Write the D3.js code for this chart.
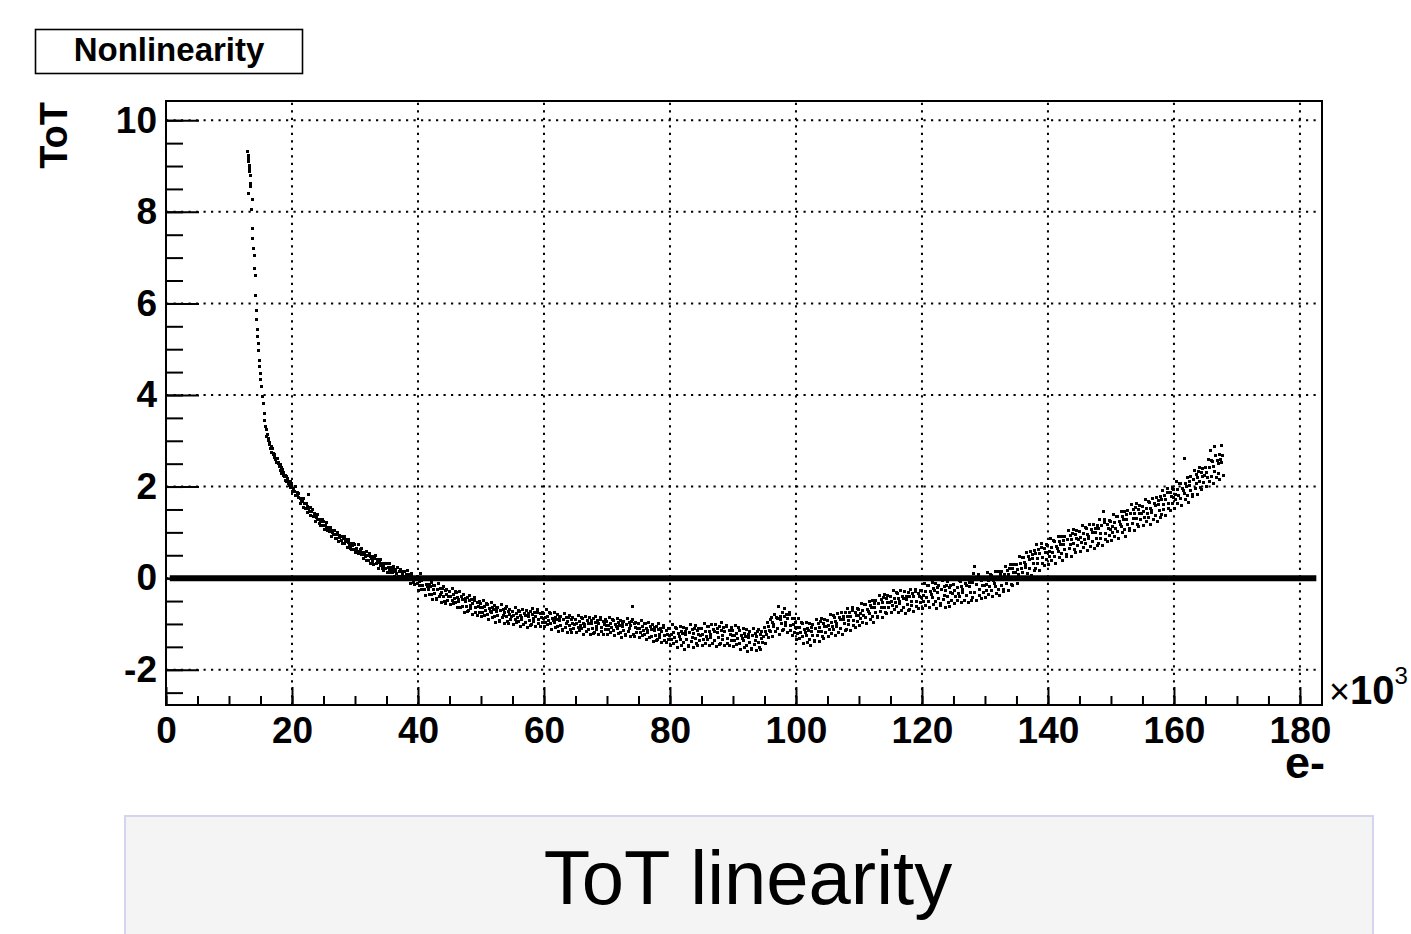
<!DOCTYPE html>
<html>
<head>
<meta charset="utf-8">
<script src="https://cdn.jsdelivr.net/npm/d3@7"></script>
<style>
  body { margin: 0; background: #fff; }
  svg { display: block; }
  text { font-family: "Liberation Sans", Arial, Helvetica, sans-serif; }
</style>
</head>
<body>
<script>
// axis ticks
const xTicks = [0, 20, 40, 60, 80, 100, 120, 140, 160, 180];
const xMinor = d3.range(0, 181, 5);
const yTicks = [-2, 0, 2, 4, 6, 8, 10];
const yMinor = d3.range(-2.5, 10.01, 0.5);

// nonlinearity points: [charge (x10^3 e-), ToT deviation]
const points = [
  [12.96,9.31],[13.07,9.24],[13.17,9.16],[13.07,9.09],[13.23,9.02],[13.33,8.95],[13.23,8.87],[13.39,8.80],[13.39,8.62],[13.49,8.55],
  [13.07,8.40],[13.70,8.27],[13.60,8.04],[13.70,7.64],[13.81,7.42],[13.92,7.20],[14.02,7.05],[14.02,6.76],[14.13,6.62],[14.23,6.18],
  [14.39,5.85],[14.39,5.64],[14.50,5.42],[14.55,5.27],[14.66,5.13],[14.66,4.98],[14.81,4.76],[14.87,4.62],[14.97,4.47],[15.08,4.33],
  [15.19,4.18],[15.34,3.96],[15.45,3.82],[15.61,3.60],[15.71,3.45],[15.82,3.31],
  [15.9,3.24],[16.0,3.10],[16.1,3.14],[16.2,3.00],[16.3,3.06],[16.4,2.92],[16.5,2.97],[16.6,2.84],[16.7,2.88],[16.8,2.75],
  [16.9,2.83],[17.0,2.71],[17.1,2.73],[17.2,2.64],[17.3,2.71],[17.4,2.60],[17.5,2.62],[17.6,2.53],[17.7,2.61],[17.8,2.50],
  [17.9,2.52],[18.0,2.43],[18.1,2.48],[18.2,2.36],[18.3,2.41],[18.4,2.29],[18.5,2.37],[18.6,2.25],[18.7,2.31],[18.8,2.21],
  [18.9,2.24],[19.0,2.14],[19.1,2.22],[19.2,2.11],[19.3,2.17],[19.4,2.06],[19.5,2.12],[19.6,2.03],[19.7,2.10],[19.8,1.98],[19.9,2.05],
  [20.0,2.06],[20.1,1.89],[20.3,1.95],[20.4,1.89],[20.5,2.00],[20.6,1.81],[20.8,1.87],[20.9,1.81],
  [21.0,1.76],[21.1,1.85],[21.3,1.64],[21.4,1.74],[21.5,1.70],[21.6,1.67],[21.8,1.74],[21.9,1.55],
  [22.0,1.63],[22.1,1.53],[22.3,1.64],[22.4,1.44],[22.5,1.57],[22.6,1.52],[22.8,1.45],[22.9,1.54],
  [23.0,1.37],[23.1,1.46],[23.3,1.50],[23.4,1.35],[23.5,1.36],[23.6,1.42],[23.8,1.23],[23.9,1.33],
  [24.0,1.39],[24.1,1.27],[24.3,1.19],[24.4,1.29],[24.5,1.14],[24.6,1.23],[24.8,1.27],[24.9,1.14],
  [25.0,1.23],[25.1,1.07],[25.3,1.14],[25.4,1.09],[25.5,1.21],[25.6,1.03],[25.8,1.10],[25.9,1.05],
  [26.0,1.01],[26.1,1.11],[26.3,0.92],[26.4,1.03],[26.5,0.99],[26.6,0.96],[26.8,1.05],[26.9,0.87],
  [27.0,0.96],[27.1,0.87],[27.3,0.99],[27.4,0.79],[27.5,0.93],[27.6,0.89],[27.8,0.83],[27.9,0.92],
  [28.0,0.76],[28.1,0.86],[28.3,0.91],[28.4,0.76],[28.5,0.79],[28.6,0.85],[28.8,0.67],[28.9,0.78],
  [29.0,0.84],[29.1,0.72],[29.3,0.65],[29.4,0.75],[29.5,0.62],[29.6,0.71],[29.8,0.75],[29.9,0.63],
  [30.0,0.73],[30.1,0.55],[30.3,0.64],[30.4,0.58],[30.5,0.74],[30.6,0.53],[30.8,0.63],[30.9,0.57],
  [31.0,0.52],[31.1,0.64],[31.3,0.42],[31.4,0.56],[31.5,0.52],[31.6,0.48],[31.8,0.59],[31.9,0.39],
  [32.0,0.50],[32.1,0.39],[32.3,0.54],[32.4,0.31],[32.5,0.48],[32.6,0.43],[32.8,0.37],[32.9,0.48],
  [33.0,0.30],[33.1,0.42],[33.3,0.49],[33.4,0.31],[33.5,0.34],[33.6,0.41],[33.8,0.21],[33.9,0.35],
  [34.0,0.41],[34.1,0.27],[34.3,0.21],[34.4,0.33],[34.5,0.17],[34.6,0.28],[34.8,0.33],[34.9,0.20],
  [35.0,0.31],[35.1,0.13],[35.3,0.23],[35.4,0.18],[35.5,0.33],[35.6,0.12],[35.8,0.23],[35.9,0.18],
  [36.0,0.13],[36.1,0.25],[36.3,0.04],[36.4,0.19],[36.5,0.15],[36.6,0.11],[36.8,0.23],[36.9,0.04],
  [37.0,0.15],[37.1,0.04],[37.3,0.19],[37.4,-0.03],[37.5,0.14],[37.6,0.09],[37.8,0.03],[37.9,0.15],
  [38.0,-0.03],[38.1,0.09],[38.3,0.16],[38.4,-0.01],[38.5,0.02],[38.6,0.09],[38.8,-0.11],[38.9,0.04],
  [39.0,0.10],[39.1,-0.04],[39.3,-0.10],[39.4,0.02],[39.5,-0.14],[39.6,-0.03],[39.8,0.02],[39.9,-0.11],
  [40.0,0.04],[40.1,-0.26],[40.2,-0.07],[40.3,-0.16],[40.4,0.10],[40.5,-0.24],[40.6,-0.05],[40.7,-0.15],[40.9,0.01],
  [41.0,-0.24],[41.1,-0.03],[41.2,-0.37],[41.4,-0.14],[41.5,-0.19],[41.6,-0.24],[41.7,-0.03],[41.8,-0.36],[41.9,-0.13],
  [42.0,-0.19],[42.1,-0.35],[42.2,-0.09],[42.3,-0.47],[42.4,-0.17],[42.5,-0.25],[42.6,-0.34],[42.7,-0.15],[42.9,-0.47],
  [43.0,-0.45],[43.1,-0.24],[43.2,-0.11],[43.4,-0.41],[43.5,-0.35],[43.6,-0.23],[43.7,-0.54],[43.8,-0.31],[43.9,-0.22],
  [44.0,-0.18],[44.1,-0.40],[44.2,-0.50],[44.3,-0.28],[44.4,-0.56],[44.5,-0.36],[44.6,-0.25],[44.7,-0.48],[44.9,-0.40],
  [45.0,-0.29],[45.1,-0.58],[45.2,-0.39],[45.4,-0.49],[45.5,-0.22],[45.6,-0.55],[45.7,-0.36],[45.8,-0.45],[45.9,-0.29],
  [46.0,-0.53],[46.1,-0.32],[46.2,-0.65],[46.3,-0.42],[46.4,-0.46],[46.5,-0.51],[46.6,-0.30],[46.7,-0.63],[46.9,-0.40],
  [47.0,-0.46],[47.1,-0.62],[47.2,-0.36],[47.4,-0.74],[47.5,-0.44],[47.6,-0.52],[47.7,-0.61],[47.8,-0.42],[47.9,-0.73],
  [48.0,-0.71],[48.1,-0.49],[48.2,-0.37],[48.3,-0.67],[48.4,-0.60],[48.5,-0.47],[48.6,-0.79],[48.7,-0.56],[48.9,-0.48],
  [49.0,-0.43],[49.1,-0.65],[49.2,-0.75],[49.4,-0.54],[49.5,-0.81],[49.6,-0.62],[49.7,-0.51],[49.8,-0.74],[49.9,-0.65],
  [50.0,-0.55],[50.1,-0.84],[50.2,-0.65],[50.3,-0.74],[50.4,-0.48],[50.5,-0.81],[50.6,-0.61],[50.7,-0.71],[50.9,-0.55],
  [51.0,-0.79],[51.1,-0.57],[51.2,-0.91],[51.4,-0.67],[51.5,-0.72],[51.6,-0.76],[51.7,-0.54],[51.8,-0.87],[51.9,-0.64],
  [52.0,-0.69],[52.1,-0.84],[52.2,-0.59],[52.3,-0.96],[52.4,-0.66],[52.5,-0.73],[52.6,-0.82],[52.7,-0.63],[52.9,-0.95],
  [53.0,-0.92],[53.1,-0.70],[53.2,-0.58],[53.4,-0.87],[53.5,-0.81],[53.6,-0.68],[53.7,-0.99],[53.8,-0.75],[53.9,-0.67],
  [54.0,-0.62],[54.1,-0.84],[54.2,-0.94],[54.3,-0.72],[54.4,-0.99],[54.5,-0.80],[54.6,-0.69],[54.7,-0.91],[54.9,-0.83],
  [55.0,-0.72],[55.1,-1.01],[55.2,-0.81],[55.4,-0.91],[55.5,-0.64],[55.6,-0.97],[55.7,-0.78],[55.8,-0.87],[55.9,-0.70],
  [56.0,-0.94],[56.1,-0.72],[56.2,-1.05],[56.3,-0.81],[56.4,-0.85],[56.5,-0.90],[56.6,-0.68],[56.7,-1.01],[56.9,-0.77],
  [57.0,-0.82],[57.1,-0.97],[57.2,-0.71],[57.4,-1.08],[57.5,-0.77],[57.6,-0.84],[57.7,-0.93],[57.8,-0.73],[57.9,-1.04],
  [58.0,-1.01],[58.1,-0.79],[58.2,-0.66],[58.3,-0.95],[58.4,-0.88],[58.5,-0.75],[58.6,-1.06],[58.7,-0.83],[58.9,-0.74],
  [59.0,-0.69],[59.1,-0.91],[59.2,-1.00],[59.4,-0.78],[59.5,-1.05],[59.6,-0.85],[59.7,-0.74],[59.8,-0.97],[59.9,-0.88],
  [60.0,-0.77],[60.1,-1.06],[60.2,-0.87],[60.3,-0.96],[60.4,-0.69],[60.5,-1.02],[60.6,-0.83],[60.7,-0.92],[60.9,-0.76],
  [61.0,-1.00],[61.1,-0.78],[61.2,-1.12],[61.4,-0.88],[61.5,-0.93],[61.6,-0.97],[61.7,-0.75],[61.8,-1.08],[61.9,-0.85],
  [62.0,-0.90],[62.1,-1.05],[62.2,-0.80],[62.3,-1.17],[62.4,-0.86],[62.5,-0.93],[62.6,-1.03],[62.7,-0.83],[62.9,-1.15],
  [63.0,-1.12],[63.1,-0.90],[63.2,-0.77],[63.4,-1.07],[63.5,-1.00],[63.6,-0.87],[63.7,-1.18],[63.8,-0.94],[63.9,-0.86],
  [64.0,-0.81],[64.1,-1.03],[64.2,-1.12],[64.3,-0.91],[64.4,-1.18],[64.5,-0.98],[64.6,-0.87],[64.7,-1.09],[64.9,-1.01],
  [65.0,-0.90],[65.1,-1.19],[65.2,-0.99],[65.4,-1.08],[65.5,-0.81],[65.6,-1.14],[65.7,-0.95],[65.8,-1.04],[65.9,-0.87],
  [66.0,-1.11],[66.1,-0.89],[66.2,-1.22],[66.3,-0.98],[66.4,-1.02],[66.5,-1.06],[66.6,-0.84],[66.7,-1.17],[66.9,-0.93],
  [67.0,-0.98],[67.1,-1.13],[67.2,-0.87],[67.4,-1.24],[67.5,-0.93],[67.6,-1.00],[67.7,-1.09],[67.8,-0.89],[67.9,-1.20],
  [68.0,-1.18],[68.1,-0.96],[68.2,-0.83],[68.3,-1.12],[68.4,-1.05],[68.5,-0.92],[68.6,-1.23],[68.7,-0.99],[68.9,-0.90],
  [69.0,-0.86],[69.1,-1.08],[69.2,-1.17],[69.4,-0.95],[69.5,-1.22],[69.6,-1.02],[69.7,-0.91],[69.8,-1.13],[69.9,-1.04],
  [70.0,-0.94],[70.1,-1.23],[70.2,-1.03],[70.3,-1.12],[70.4,-0.85],[70.5,-1.18],[70.6,-0.98],[70.7,-1.07],[70.9,-0.90],
  [71.0,-1.15],[71.1,-0.93],[71.2,-1.26],[71.4,-1.02],[71.5,-1.06],[71.6,-1.10],[71.7,-0.88],[71.8,-1.21],[71.9,-0.97],
  [72.0,-1.03],[72.1,-1.18],[72.2,-0.92],[72.3,-1.29],[72.4,-0.98],[72.5,-1.05],[72.6,-1.14],[72.7,-0.94],[72.9,-1.25],
  [73.0,-1.23],[73.1,-1.01],[73.2,-0.88],[73.4,-1.17],[73.5,-1.10],[73.6,-0.97],[73.7,-1.28],[73.8,-1.04],[73.9,-0.95],
  [74.0,-0.91],[74.1,-0.62],[74.2,-1.22],[74.3,-1.00],[74.4,-1.27],[74.5,-1.08],[74.6,-0.97],[74.7,-1.19],[74.9,-1.11],
  [75.0,-1.00],[75.1,-1.29],[75.2,-1.09],[75.4,-1.19],[75.5,-0.92],[75.6,-1.25],[75.7,-1.06],[75.8,-1.15],[75.9,-0.98],
  [76.0,-1.22],[76.1,-1.00],[76.2,-1.33],[76.3,-1.10],[76.4,-1.14],[76.5,-1.19],[76.6,-0.97],[76.7,-1.30],[76.9,-1.06],
  [77.0,-1.12],[77.1,-1.27],[77.2,-1.02],[77.4,-1.39],[77.5,-1.08],[77.6,-1.15],[77.7,-1.25],[77.8,-1.05],[77.9,-1.36],
  [78.0,-1.34],[78.1,-1.12],[78.2,-0.99],[78.3,-1.29],[78.4,-1.22],[78.5,-1.10],[78.6,-1.41],[78.7,-1.17],[78.9,-1.08],
  [79.0,-1.04],[79.1,-1.26],[79.2,-1.36],[79.4,-1.14],[79.5,-1.41],[79.6,-1.22],[79.7,-1.11],[79.8,-1.33],[79.9,-1.25],
  [80.0,-1.11],[80.1,-1.47],[80.2,-1.23],[80.3,-1.34],[80.4,-1.01],[80.5,-1.43],[80.6,-1.18],[80.7,-1.29],[80.9,-1.07],
  [81.0,-1.38],[81.1,-1.10],[81.2,-1.52],[81.4,-1.21],[81.5,-1.27],[81.6,-1.33],[81.7,-1.05],[81.8,-1.47],[81.9,-1.16],
  [82.0,-1.21],[82.1,-1.41],[82.2,-1.07],[82.3,-1.55],[82.4,-1.16],[82.5,-1.24],[82.6,-1.35],[82.7,-1.10],[82.9,-1.49],
  [83.0,-1.47],[83.1,-1.19],[83.2,-1.02],[83.4,-1.38],[83.5,-1.30],[83.6,-1.13],[83.7,-1.52],[83.8,-1.21],[83.9,-1.10],
  [84.0,-1.04],[84.1,-1.32],[84.2,-1.43],[84.3,-1.15],[84.4,-1.48],[84.5,-1.23],[84.6,-1.09],[84.7,-1.37],[84.9,-1.26],
  [85.0,-1.11],[85.1,-1.47],[85.2,-1.22],[85.4,-1.33],[85.5,-1.00],[85.6,-1.42],[85.7,-1.17],[85.8,-1.28],[85.9,-1.05],
  [86.0,-1.34],[86.1,-1.06],[86.2,-1.48],[86.3,-1.17],[86.4,-1.23],[86.5,-1.29],[86.6,-1.01],[86.7,-1.43],[86.9,-1.12],
  [87.0,-1.16],[87.1,-1.36],[87.2,-1.02],[87.4,-1.50],[87.5,-1.11],[87.6,-1.19],[87.7,-1.30],[87.8,-1.05],[87.9,-1.44],
  [88.0,-1.42],[88.1,-1.14],[88.2,-0.97],[88.3,-1.33],[88.4,-1.25],[88.5,-1.08],[88.6,-1.47],[88.7,-1.16],[88.9,-1.05],
  [89.0,-1.03],[89.1,-1.31],[89.2,-1.42],[89.4,-1.14],[89.5,-1.47],[89.6,-1.22],[89.7,-1.08],[89.8,-1.36],[89.9,-1.25],
  [90.0,-1.14],[90.1,-1.50],[90.2,-1.25],[90.3,-1.36],[90.4,-1.03],[90.5,-1.45],[90.6,-1.20],[90.7,-1.31],[90.9,-1.08],
  [91.0,-1.42],[91.1,-1.14],[91.2,-1.56],[91.4,-1.25],[91.5,-1.31],[91.6,-1.37],[91.7,-1.09],[91.8,-1.51],[91.9,-1.20],
  [92.0,-1.27],[92.1,-1.47],[92.2,-1.13],[92.3,-1.61],[92.4,-1.22],[92.5,-1.30],[92.6,-1.41],[92.7,-1.16],[92.9,-1.55],
  [93.0,-1.54],[93.1,-1.26],[93.2,-1.09],[93.4,-1.45],[93.5,-1.37],[93.6,-1.20],[93.7,-1.59],[93.8,-1.28],[93.9,-1.17],
  [94.0,-1.13],[94.1,-1.41],[94.2,-1.52],[94.3,-1.24],[94.4,-1.56],[94.5,-1.31],[94.6,-1.16],[94.7,-1.41],[94.9,-1.27],
  [95.0,-1.08],[95.1,-1.42],[95.2,-1.16],[95.4,-1.23],[95.5,-0.97],[95.6,-1.29],[95.7,-1.06],[95.8,-1.14],[95.9,-0.90],
  [96.0,-1.16],[96.1,-0.87],[96.2,-1.28],[96.3,-0.96],[96.4,-1.01],[96.5,-1.06],[96.6,-0.79],[96.7,-1.17],[96.9,-0.85],
  [97.0,-0.89],[97.1,-1.09],[97.2,-0.62],[97.4,-1.22],[97.5,-0.83],[97.6,-0.90],[97.7,-1.00],[97.8,-0.76],[97.9,-1.14],
  [98.0,-1.12],[98.1,-0.84],[98.2,-0.67],[98.3,-1.04],[98.4,-0.96],[98.5,-0.79],[98.6,-1.19],[98.7,-0.89],[98.9,-0.79],
  [99.0,-0.75],[99.1,-1.04],[99.2,-1.15],[99.4,-0.89],[99.5,-1.25],[99.6,-1.01],[99.7,-0.88],[99.8,-1.19],[99.9,-1.08],
  [100.0,-0.96],[100.1,-1.33],[100.2,-1.08],[100.3,-1.20],[100.4,-0.89],[100.5,-1.31],[100.6,-1.07],[100.7,-1.19],[100.9,-0.97],
  [101.0,-1.28],[101.1,-1.00],[101.2,-1.43],[101.4,-1.12],[101.5,-1.19],[101.6,-1.25],[101.7,-0.97],[101.8,-1.40],[101.9,-1.09],
  [102.0,-1.14],[102.1,-1.34],[102.2,-1.00],[102.3,-1.48],[102.4,-1.08],[102.5,-1.16],[102.6,-1.26],[102.7,-1.01],[102.9,-1.39],
  [103.0,-1.37],[103.1,-1.09],[103.2,-0.91],[103.4,-1.26],[103.5,-1.17],[103.6,-1.00],[103.7,-1.38],[103.8,-1.07],[103.9,-0.95],
  [104.0,-0.89],[104.1,-1.16],[104.2,-1.27],[104.3,-0.98],[104.4,-1.31],[104.5,-1.06],[104.6,-0.91],[104.7,-1.18],[104.9,-1.06],
  [105.0,-0.92],[105.1,-1.28],[105.2,-1.03],[105.4,-1.12],[105.5,-0.79],[105.6,-1.21],[105.7,-0.96],[105.8,-1.06],[105.9,-0.82],
  [106.0,-1.13],[106.1,-0.85],[106.2,-1.26],[106.3,-0.95],[106.4,-1.00],[106.5,-1.05],[106.6,-0.77],[106.7,-1.18],[106.9,-0.86],
  [107.0,-0.91],[107.1,-1.11],[107.2,-0.76],[107.4,-1.23],[107.5,-0.84],[107.6,-0.91],[107.7,-1.00],[107.8,-0.76],[107.9,-1.14],
  [108.0,-1.12],[108.1,-0.84],[108.2,-0.66],[108.3,-1.02],[108.4,-0.93],[108.5,-0.76],[108.6,-1.15],[108.7,-0.84],[108.9,-0.71],
  [109.0,-0.65],[109.1,-0.93],[109.2,-1.04],[109.4,-0.74],[109.5,-1.07],[109.6,-0.81],[109.7,-0.67],[109.8,-0.94],[109.9,-0.82],
  [110.0,-0.68],[110.1,-1.03],[110.2,-0.78],[110.3,-0.88],[110.4,-0.55],[110.5,-0.96],[110.6,-0.71],[110.7,-0.81],[110.9,-0.57],
  [111.0,-0.87],[111.1,-0.58],[111.2,-0.99],[111.4,-0.68],[111.5,-0.73],[111.6,-0.78],[111.7,-0.50],[111.8,-0.91],[111.9,-0.60],
  [112.0,-0.64],[112.1,-0.83],[112.2,-0.49],[112.3,-0.96],[112.4,-0.56],[112.5,-0.64],[112.6,-0.74],[112.7,-0.49],[112.9,-0.86],
  [113.0,-0.84],[113.1,-0.55],[113.2,-0.38],[113.4,-0.73],[113.5,-0.64],[113.6,-0.47],[113.7,-0.86],[113.8,-0.53],[113.9,-0.42],
  [114.0,-0.36],[114.1,-0.64],[114.2,-0.74],[114.3,-0.45],[114.4,-0.78],[114.5,-0.53],[114.6,-0.38],[114.7,-0.65],[114.9,-0.53],
  [115.0,-0.39],[115.1,-0.75],[115.2,-0.50],[115.4,-0.60],[115.5,-0.27],[115.6,-0.69],[115.7,-0.44],[115.8,-0.54],[115.9,-0.31],
  [116.0,-0.62],[116.1,-0.34],[116.2,-0.76],[116.3,-0.45],[116.4,-0.51],[116.5,-0.56],[116.6,-0.28],[116.7,-0.70],[116.9,-0.39],
  [117.0,-0.44],[117.1,-0.64],[117.2,-0.30],[117.4,-0.78],[117.5,-0.39],[117.6,-0.46],[117.7,-0.57],[117.8,-0.32],[117.9,-0.71],
  [118.0,-0.69],[118.1,-0.41],[118.2,-0.24],[118.3,-0.59],[118.4,-0.51],[118.5,-0.34],[118.6,-0.72],[118.7,-0.41],[118.9,-0.30],
  [119.0,-0.24],[119.1,-0.51],[119.2,-0.62],[119.4,-0.34],[119.5,-0.66],[119.6,-0.41],[119.7,-0.27],[119.8,-0.54],[119.9,-0.42],
  [120.0,-0.26],[120.1,-0.67],[120.2,-0.38],[120.3,-0.50],[120.4,-0.11],[120.5,-0.59],[120.6,-0.30],[120.7,-0.43],[120.9,-0.16],
  [121.0,-0.50],[121.1,-0.17],[121.2,-0.65],[121.4,-0.30],[121.5,-0.36],[121.6,-0.42],[121.7,-0.10],[121.8,-0.57],[121.9,-0.22],
  [122.0,-0.28],[122.1,-0.50],[122.2,-0.12],[122.3,-0.66],[122.4,-0.21],[122.5,-0.31],[122.6,-0.44],[122.7,-0.15],[122.9,-0.60],
  [123.0,-0.56],[123.1,-0.24],[123.2,-0.05],[123.4,-0.47],[123.5,-0.37],[123.6,-0.18],[123.7,-0.63],[123.8,-0.28],[123.9,-0.16],
  [124.0,-0.08],[124.1,-0.40],[124.2,-0.53],[124.3,-0.21],[124.4,-0.61],[124.5,-0.31],[124.6,-0.16],[124.7,-0.48],[124.9,-0.34],
  [125.0,-0.14],[125.1,-0.56],[125.2,-0.27],[125.4,-0.40],[125.5,-0.01],[125.6,-0.49],[125.7,-0.20],[125.8,-0.33],[125.9,-0.06],
  [126.0,-0.40],[126.1,-0.07],[126.2,-0.54],[126.3,-0.19],[126.4,-0.25],[126.5,-0.31],[126.6,0.01],[126.7,-0.48],[126.9,-0.11],
  [127.0,-0.17],[127.1,-0.38],[127.2,0.00],[127.4,-0.54],[127.5,-0.09],[127.6,-0.19],[127.7,-0.32],[127.8,-0.03],[127.9,-0.49],
  [128.0,-0.42],[128.1,-0.09],[128.2,0.10],[128.3,-0.32],[128.4,0.25],[128.5,-0.03],[128.6,-0.48],[128.7,-0.13],[128.9,0.00],
  [129.0,0.08],[129.1,-0.24],[129.2,-0.37],[129.4,-0.05],[129.5,-0.44],[129.6,-0.15],[129.7,0.01],[129.8,-0.31],[129.9,-0.17],
  [130.0,0.01],[130.1,-0.42],[130.2,-0.13],[130.3,-0.26],[130.4,0.13],[130.5,-0.35],[130.6,-0.06],[130.7,-0.19],[130.9,0.07],
  [131.0,-0.27],[131.1,0.06],[131.2,-0.41],[131.4,-0.06],[131.5,-0.12],[131.6,-0.18],[131.7,0.14],[131.8,-0.34],[131.9,0.01],
  [132.0,-0.03],[132.1,-0.24],[132.2,0.15],[132.3,-0.38],[132.4,0.07],[132.5,-0.03],[132.6,-0.15],[132.7,0.15],[132.9,-0.30],
  [133.0,-0.25],[133.1,0.07],[133.2,0.26],[133.4,-0.12],[133.5,-0.03],[133.6,0.16],[133.7,-0.28],[133.8,0.08],[133.9,0.22],
  [134.0,0.30],[134.1,-0.01],[134.2,-0.13],[134.3,0.20],[134.4,-0.17],[134.5,0.12],[134.6,0.29],[134.7,-0.02],[134.9,0.13],
  [135.0,0.30],[135.1,-0.11],[135.2,0.19],[135.4,0.08],[135.5,0.48],[135.6,0.01],[135.7,0.32],[135.8,0.20],[135.9,0.46],
  [136.0,0.12],[136.1,0.45],[136.2,-0.02],[136.3,0.34],[136.4,0.29],[136.5,0.24],[136.6,0.57],[136.7,0.10],[136.9,0.47],
  [137.0,0.41],[137.1,0.20],[137.2,0.59],[137.4,0.06],[137.5,0.52],[137.6,0.43],[137.7,0.31],[137.8,0.61],[137.9,0.17],
  [138.0,0.21],[138.1,0.54],[138.2,0.73],[138.3,0.32],[138.4,0.43],[138.5,0.63],[138.6,0.17],[138.7,0.54],[138.9,0.68],
  [139.0,0.76],[139.1,0.45],[139.2,0.32],[139.4,0.65],[139.5,0.27],[139.6,0.56],[139.7,0.73],[139.8,0.41],[139.9,0.55],
  [140.0,0.71],[140.1,0.30],[140.2,0.59],[140.3,0.47],[140.4,0.86],[140.5,0.39],[140.6,0.68],[140.7,0.56],[140.9,0.82],
  [141.0,0.48],[141.1,0.81],[141.2,0.33],[141.4,0.70],[141.5,0.65],[141.6,0.59],[141.7,0.92],[141.8,0.45],[141.9,0.80],
  [142.0,0.74],[142.1,0.53],[142.2,0.92],[142.3,0.38],[142.4,0.83],[142.5,0.74],[142.6,0.62],[142.7,0.91],[142.9,0.47],
  [143.0,0.52],[143.1,0.85],[143.2,1.05],[143.4,0.64],[143.5,0.74],[143.6,0.93],[143.7,0.48],[143.8,0.84],[143.9,0.98],
  [144.0,1.06],[144.1,0.75],[144.2,0.62],[144.3,0.95],[144.4,0.57],[144.5,0.86],[144.6,1.03],[144.7,0.71],[144.9,0.85],
  [145.0,1.01],[145.1,0.59],[145.2,0.89],[145.4,0.77],[145.5,1.16],[145.6,0.68],[145.7,0.97],[145.8,0.85],[145.9,1.11],
  [146.0,0.76],[146.1,1.08],[146.2,0.60],[146.3,0.96],[146.4,0.91],[146.5,0.86],[146.6,1.18],[146.7,0.70],[146.9,1.07],
  [147.0,1.00],[147.1,0.79],[147.2,1.18],[147.4,0.64],[147.5,1.09],[147.6,1.00],[147.7,0.87],[147.8,1.16],[147.9,0.72],
  [148.0,0.76],[148.1,1.09],[148.2,1.28],[148.3,0.86],[148.4,0.97],[148.5,1.16],[148.6,0.72],[148.8,1.45],[148.9,1.21],
  [149.0,1.28],[149.1,0.97],[149.2,0.84],[149.4,1.17],[149.5,0.79],[149.6,1.08],[149.7,1.25],[149.8,0.93],[149.9,1.06],
  [150.0,1.23],[150.1,0.82],[150.2,1.12],[150.3,1.00],[150.4,1.39],[150.5,0.92],[150.6,1.21],[150.7,1.09],[150.9,1.35],
  [151.0,1.01],[151.1,1.34],[151.2,0.87],[151.4,1.24],[151.5,1.18],[151.6,1.13],[151.7,1.45],[151.8,0.99],[151.9,1.34],
  [152.0,1.28],[152.1,1.07],[152.2,1.46],[152.3,0.92],[152.4,1.38],[152.5,1.29],[152.6,1.17],[152.7,1.47],[152.9,1.03],
  [153.0,1.08],[153.1,1.41],[153.2,1.60],[153.4,1.19],[153.5,1.30],[153.6,1.50],[153.7,1.05],[153.8,1.41],[153.9,1.54],
  [154.0,1.62],[154.1,1.31],[154.2,1.18],[154.3,1.50],[154.4,1.12],[154.5,1.42],[154.6,1.59],[154.7,1.27],[154.9,1.41],
  [155.0,1.57],[155.1,1.15],[155.2,1.45],[155.4,1.33],[155.5,1.72],[155.6,1.24],[155.7,1.53],[155.8,1.41],[155.9,1.67],
  [156.0,1.32],[156.1,1.65],[156.2,1.17],[156.3,1.53],[156.4,1.48],[156.5,1.43],[156.6,1.75],[156.7,1.28],[156.9,1.64],
  [157.0,1.58],[157.1,1.37],[157.2,1.76],[157.4,1.23],[157.5,1.69],[157.6,1.60],[157.7,1.48],[157.8,1.78],[157.9,1.33],
  [158.0,1.38],[158.1,1.71],[158.2,1.91],[158.3,1.50],[158.4,1.61],[158.5,1.80],[158.6,1.36],[158.7,1.72],[158.9,1.87],
  [159.0,1.95],[159.1,1.64],[159.2,1.52],[159.4,1.86],[159.5,1.47],[159.6,1.78],[159.7,1.95],[159.8,1.64],[159.9,1.77],
  [160.0,1.94],[160.1,1.53],[160.2,1.83],[160.3,1.71],[160.4,2.11],[160.5,1.63],[160.6,1.93],[160.7,1.81],[160.9,2.07],
  [161.0,1.73],[161.1,2.06],[161.2,1.59],[161.4,1.96],[161.5,1.91],[161.6,1.85],[161.7,2.62],[161.8,1.71],[161.9,2.07],
  [162.0,2.01],[162.1,1.80],[162.2,2.19],[162.3,1.66],[162.4,2.12],[162.5,2.03],[162.6,1.91],[162.7,2.21],[162.9,1.78],
  [163.0,1.83],[163.1,2.16],[163.2,2.36],[163.4,1.96],[163.5,2.07],[163.6,2.27],[163.7,1.83],[163.8,2.19],[163.9,2.33],
  [164.0,2.41],[164.1,2.10],[164.2,1.98],[164.3,2.31],[164.4,1.93],[164.5,2.23],[164.6,2.40],[164.7,2.09],[164.9,2.24],
  [165.0,2.41],[165.1,2.00],[165.2,2.31],[165.4,2.19],[165.5,2.59],[165.6,2.12],[165.7,2.42],[165.8,2.78],[165.9,2.56],
  [166.0,2.22],[166.1,2.55],[166.2,2.07],[166.3,2.44],[166.4,2.88],[166.5,2.34],[166.6,2.67],[166.7,2.20],[166.9,2.58],
  [167.0,2.51],[167.1,2.29],[167.2,2.69],[167.3,2.16],[167.4,2.60],[167.5,2.52],[167.6,2.90],[167.7,2.68],[167.8,2.25],
  [22.6,1.82]
];

const width = 1411, height = 934;
const frame = {left: 166, right: 1322, top: 101, bottom: 705};
const dot = 3;

const svg = d3.select("body")
    .append("svg")
    .attr("width", width)
    .attr("height", height);

const x = d3.scaleLinear()
    .domain([0, 183.5])
    .range([frame.left, frame.right]);

const y = d3.scaleLinear()
    .domain([-2.77, 10.42])
    .range([frame.bottom, frame.top]);

// title box
svg.append("rect")
    .attr("x", 35.5).attr("y", 29.5)
    .attr("width", 267).attr("height", 44)
    .attr("fill", "#fff")
    .attr("stroke", "#000")
    .attr("stroke-width", 1.6);
svg.append("text")
    .attr("x", 169).attr("y", 61)
    .attr("text-anchor", "middle")
    .attr("font-weight", "bold")
    .attr("font-size", 33)
    .text("Nonlinearity");

// dotted grid
const grid = svg.append("g")
    .attr("stroke", "#000")
    .attr("stroke-width", 2)
    .attr("stroke-dasharray", "2.2 5.3");
grid.selectAll(".gx")
    .data(xTicks.filter(d => d > 0))
    .join("line")
      .attr("x1", d => x(d)).attr("x2", d => x(d))
      .attr("y1", frame.bottom).attr("y2", frame.top);
grid.selectAll(".gy")
    .data(yTicks)
    .join("line")
      .attr("x1", frame.left).attr("x2", frame.right)
      .attr("y1", d => y(d)).attr("y2", d => y(d));

// zero reference line
svg.append("line")
    .attr("x1", x(0.6)).attr("x2", x(182.6))
    .attr("y1", y(0)).attr("y2", y(0))
    .attr("stroke", "#000")
    .attr("stroke-width", 6);

// points
svg.append("g")
    .attr("shape-rendering", "crispEdges")
    .selectAll("rect")
    .data(points)
    .join("rect")
      .attr("x", d => Math.round(x(d[0]) - dot / 2))
      .attr("y", d => Math.round(y(d[1]) - dot / 2))
      .attr("width", dot)
      .attr("height", dot)
      .attr("fill", "#000");

// axes, ticks inside the frame
function styleAxis(g) {
    g.select(".domain").remove();
    g.selectAll("line").attr("stroke", "#000").attr("stroke-width", 2);
    g.selectAll("text")
        .attr("font-family", null)
        .attr("font-weight", "bold")
        .attr("font-size", 37)
        .attr("fill", "#000");
}

svg.append("g")
    .attr("transform", `translate(${frame.left},0)`)
    .call(d3.axisLeft(y).tickValues(yMinor).tickSize(-17).tickFormat(""))
    .call(styleAxis);
svg.append("g")
    .attr("transform", `translate(${frame.left},0)`)
    .call(d3.axisLeft(y).tickValues(yTicks).tickSize(-33).tickPadding(9).tickFormat(d => String(d)))
    .call(styleAxis);

svg.append("g")
    .attr("transform", `translate(0,${frame.bottom})`)
    .call(d3.axisBottom(x).tickValues(xMinor).tickSize(-9).tickFormat(""))
    .call(styleAxis);
svg.append("g")
    .attr("transform", `translate(0,${frame.bottom})`)
    .call(d3.axisBottom(x).tickValues(xTicks).tickSize(-18).tickPadding(12).tickFormat(d => String(d)))
    .call(styleAxis);

// frame
svg.append("rect")
    .attr("x", frame.left).attr("y", frame.top)
    .attr("width", frame.right - frame.left)
    .attr("height", frame.bottom - frame.top)
    .attr("fill", "none")
    .attr("stroke", "#000")
    .attr("stroke-width", 2);

// axis titles
svg.append("text")
    .attr("transform", "translate(67,102) rotate(-90)")
    .attr("text-anchor", "end")
    .attr("font-weight", "bold")
    .attr("font-size", 38)
    .text("ToT");

svg.append("text")
    .attr("x", 1325).attr("y", 778)
    .attr("text-anchor", "end")
    .attr("font-weight", "bold")
    .attr("font-size", 45)
    .text("e-");

const mult = svg.append("text")
    .attr("x", 1329).attr("y", 704);
mult.append("tspan").attr("font-size", 36).text("×");
mult.append("tspan").attr("font-size", 40).attr("font-weight", "bold").text("10");
mult.append("tspan").attr("font-size", 24).attr("dy", -20).text("3");

// caption
svg.append("rect")
    .attr("x", 125).attr("y", 816)
    .attr("width", 1248).attr("height", 140)
    .attr("fill", "#f4f4f4")
    .attr("stroke", "#d4d4ee")
    .attr("stroke-width", 2);
svg.append("text")
    .attr("x", 748).attr("y", 904)
    .attr("text-anchor", "middle")
    .attr("font-size", 76)
    .text("ToT linearity");
</script>
</body>
</html>
